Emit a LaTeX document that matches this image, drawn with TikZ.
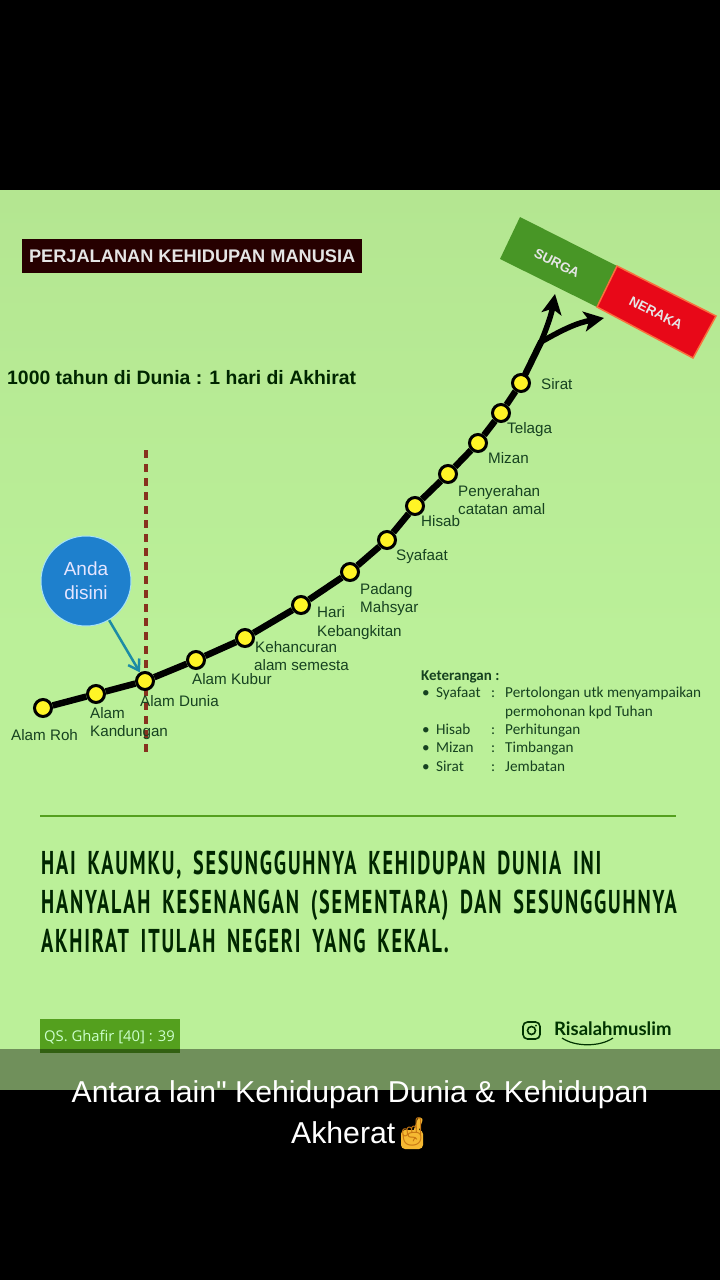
\documentclass[tikz,border=0pt]{standalone}
\usepackage{fontspec}
\usepackage{tikz}
\usetikzlibrary{arrows,arrows.meta,calc}
\setmainfont{Liberation Sans}
\newfontfamily\legendfont{Carlito}
\newfontfamily\versefont[LetterSpace=9,WordSpace=1.7]{PT Sans}
\newfontfamily\qsfont{Open Sans}
\newfontfamily\accountfont{Lato}
\newfontfamily\emojifont{Noto Emoji}
\newfontfamily\captfont{Liberation Sans}
\definecolor{leaf}{RGB}{187,240,153}
\definecolor{leaftop}{RGB}{180,230,145}
\definecolor{surgagreen}{RGB}{72,150,38}
\definecolor{nerakared}{RGB}{232,8,24}
\definecolor{nerakaedge}{RGB}{250,110,60}
\definecolor{labelgreen}{RGB}{22,66,32}
\definecolor{ruleline}{RGB}{84,160,30}
\definecolor{andablue}{RGB}{30,128,205}
\definecolor{arrowteal}{RGB}{28,140,165}
\definecolor{dashred}{RGB}{135,50,30}
\definecolor{emojigold}{RGB}{245,185,50}
\definecolor{emojiedge}{RGB}{200,120,20}
\tikzset{
	station/.style={circle, draw=black, line width=3pt, fill=yellow!85!white, minimum size=17pt, inner sep=0pt},
	rail/.style={line width=6.5pt, black},
	lbl/.style={anchor=base west, yshift=-5pt, inner sep=0pt, text=labelgreen, font=\fontsize{15.2}{15.2}\selectfont},
	lgd/.style={anchor=base west, yshift=-5pt, inner sep=0pt, text=labelgreen, font=\legendfont\fontsize{15.2}{15.2}\selectfont},
	verse/.style={anchor=base west, inner sep=0pt, text=black!85!green, font=\versefont\bfseries\fontsize{33}{33}\selectfont},
	gate/.style={inner sep=0pt, rotate=-27, text=white!90!black, font=\bfseries\fontsize{13.5}{13.5}\selectfont},
	capt/.style={inner sep=0pt, text=white, font=\captfont\fontsize{30.2}{30.2}\selectfont}
}

\begin{document}
\begin{tikzpicture}[x=1pt, y=-1pt]
	\useasboundingbox (0,0) rectangle (720,1280);
	\fill[black] (0,0) rectangle (720,1280);
	\shade[top color=leaftop, bottom color=leaf, middle color=leaf] (0,190) rectangle (720,1090);

	% heading
	\node [fill=black!85!red, minimum width=340pt, minimum height=34pt, anchor=north west, inner sep=0pt] (titlebox) at (22,239) {};
	\node [inner sep=0pt, text=white!90!black, font=\bfseries\fontsize{18.2}{18.2}\selectfont] (title) at (titlebox.center) {PERJALANAN KEHIDUPAN MANUSIA};
	\node [anchor=west, inner sep=0pt, text=black!85!green, font=\bfseries\fontsize{19.4}{19.4}\selectfont] (ratio) at (7,378) {1000 tahun di Dunia : 1 hari di Akhirat};

	% surga and neraka
	\fill[surgagreen] (520,217) -- (617,266) -- (597,307) -- (500,259) -- cycle;
	\draw[nerakaedge, line width=1.5pt, fill=nerakared] (617,266) -- (716,316) -- (693,358) -- (597,307) -- cycle;
	\node [gate] (surga) at (557,263) {SURGA};
	\node [gate] (neraka) at (656,313) {NERAKA};

	% now line
	\coordinate (nowtop) at (146,450);
	\coordinate (nowend) at (146,752);
	\draw[dashred, line width=3.4pt, dash pattern=on 8pt off 6pt] (nowtop) -- (nowend);

	% stations
	\node [station] (roh)		at (43,708)  {};
	\node [station] (kandungan)	at (96,694)  {};
	\node [station] (dunia)		at (145,681) {};
	\node [station] (kubur)		at (196,660) {};
	\node [station] (hancur)	at (245,638) {};
	\node [station] (bangkit)	at (301,605) {};
	\node [station] (mahsyar)	at (350,572) {};
	\node [station] (syafaat)	at (387,540) {};
	\node [station] (hisab)		at (415,506) {};
	\node [station] (amal)		at (448,474) {};
	\node [station] (mizan)		at (478,443) {};
	\node [station] (telaga)	at (501,413) {};
	\node [station] (sirat)		at (521,383) {};
	\foreach \a/\b in {roh/kandungan, kandungan/dunia, dunia/kubur, kubur/hancur, hancur/bangkit, bangkit/mahsyar, mahsyar/syafaat, syafaat/hisab, hisab/amal, amal/mizan, mizan/telaga, telaga/sirat}
		\draw[rail] (\a) -- (\b);

	% the fork
	\coordinate (fork) at (541,342);
	\coordinate (upend) at (555,294);
	\coordinate (rightend) at (604,318);
	\draw[rail, line cap=round] (sirat) -- (fork);
	\draw[rail, line width=5.5pt, -{Stealth[length=20pt,width=20pt,inset=5pt]}] (fork) to[out=68, in=-100] (upend);
	\draw[rail, line width=5.5pt, -{Stealth[length=20pt,width=20pt,inset=5pt]}] (fork) to[out=30, in=190] (rightend);

	% you are here
	\node [circle, fill=andablue, draw=cyan!35!white, line width=1pt, minimum size=90pt, inner sep=0pt, align=center, text=white!90!blue, font=\fontsize{19}{24}\selectfont] (anda) at (86,581) {Anda\\disini};
	\draw[arrowteal, line width=2.5pt, -{Straight Barb[length=10pt,width=13pt]}] (anda) -- (dunia);

	% station labels
	\node [lbl] (lroh)		at (11,735)	 {Alam Roh};
	\node [lbl] (lalam)		at (90,713)	 {Alam};
	\node [lbl] (lkand)		at (90,731)	 {Kandungan};
	\node [lbl] (ldunia)	at (140,701) {Alam Dunia};
	\node [lbl] (lkubur)	at (192,679) {Alam Kubur};
	\node [lbl] (lhanc)		at (255,647) {Kehancuran};
	\node [lbl] (lsemesta)	at (254,665) {alam semesta};
	\node [lbl] (lhari)		at (317,612) {Hari};
	\node [lbl] (lbang)		at (317,631) {Kebangkitan};
	\node [lbl] (lpadang)	at (360,589) {Padang};
	\node [lbl] (lmahs)		at (360,607) {Mahsyar};
	\node [lbl] (lsyaf)		at (396,555) {Syafaat};
	\node [lbl] (lhisab)	at (421,521) {Hisab};
	\node [lbl] (lpeny)		at (458,491) {Penyerahan};
	\node [lbl] (lcat)		at (458,509) {catatan amal};
	\node [lbl] (lmizan)	at (488,458) {Mizan};
	\node [lbl] (ltelaga)	at (507,428) {Telaga};
	\node [lbl] (lsirat)	at (541,384) {Sirat};

	% legend
	\node [lgd, font=\legendfont\bfseries\fontsize{15}{15}\selectfont] (keterangan) at (421,675) {Keterangan :};
	\foreach \nm/\yy/\term/\what in {syaf/692/Syafaat/Pertolongan utk menyampaikan, hisb/729/Hisab/Perhitungan, mizn/747/Mizan/Timbangan, srat/766/Sirat/Jembatan} {
		\node [lgd] (b\nm) at (422,\yy) {\textbullet};
		\node [lgd] (t\nm) at (436,\yy) {\term};
		\node [lgd] (c\nm) at (491,\yy) {:};
		\node [lgd] (d\nm) at (505,\yy) {\what};
	}
	\node [lgd] (dsyaf2) at (505,711) {permohonan kpd Tuhan};

	% verse
	\draw[ruleline, line width=2.8pt] (40,816) -- (676,816);
	\node [verse] (verse1) at (41,874) {\scalebox{0.61}[1]{HAI KAUMKU, SESUNGGUHNYA KEHIDUPAN DUNIA INI}};
	\node [verse] (verse2) at (41,913) {\scalebox{0.61}[1]{HANYALAH KESENANGAN (SEMENTARA) DAN SESUNGGUHNYA}};
	\node [verse] (verse3) at (41,952) {\scalebox{0.61}[1]{AKHIRAT ITULAH NEGERI YANG KEKAL.}};

	% source and account
	\node [fill=ruleline, minimum width=140pt, minimum height=34pt, anchor=north west, inner sep=0pt] (qsbox) at (40,1019) {};
	\node [anchor=west, inner sep=0pt, text=white!80!green, font=\qsfont\fontsize{14.8}{14.8}\selectfont] (qs) at (44,1037) {QS. Ghafir [40] : 39};
	\draw[black!80!green, line width=1.6pt, rounded corners=4.5pt] (523,1022) rectangle (540,1039);
	\draw[black!80!green, line width=1.6pt] (531.5,1030.5) circle (4pt);
	\fill[black!80!green] (536,1025.5) circle (1pt);
	\node [anchor=west, inner sep=0pt, text=black!80!green, font=\accountfont\bfseries\fontsize{18.5}{18.5}\selectfont] (account) at (554,1029) {Risalahmuslim};
	\draw[black!80!green, line width=1.2pt] (562,1038) .. controls (575,1047) and (600,1047) .. (613,1038);

	% caption band
	\fill[black, opacity=.4] (0,1049) rectangle (720,1090);
	\fill[black] (0,1090) rectangle (720,1280);
	\node [capt] (capt1) at (360,1095) {Antara lain" Kehidupan Dunia \& Kehidupan};
	\node [capt, anchor=west] (capt2) at (291,1133) {Akherat};
	\fill[emojigold, rounded corners=4pt] (401,1130) rectangle (423,1149);
	\draw[emojigold, line width=5pt, line cap=round] (415,1134) -- (420,1120);
	\node [anchor=center, inner sep=0pt, text=emojiedge, font=\emojifont\fontsize{28}{28}\selectfont] (hand) at (412,1132) {☝};
\end{tikzpicture}
\end{document}
